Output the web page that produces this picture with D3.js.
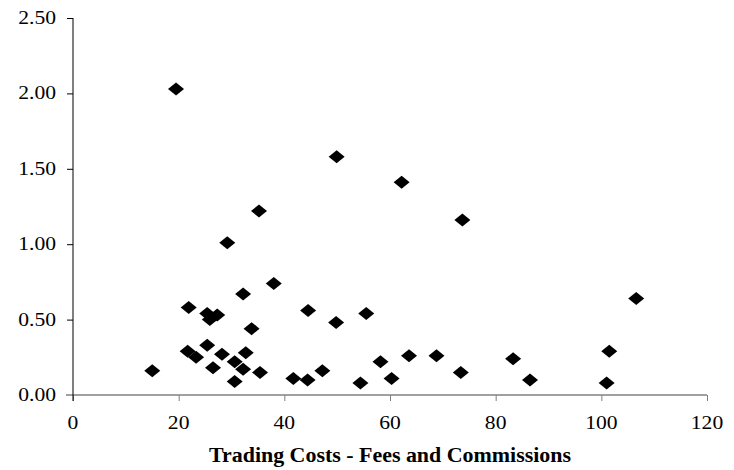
<!DOCTYPE html>
<html>
<head>
<meta charset="utf-8">
<script src="https://cdn.jsdelivr.net/npm/d3@7"></script>
<style>
  body { margin: 0; background: #fff; }
  text { font-family: "Liberation Serif", "Times New Roman", serif; fill: #000; }
</style>
</head>
<body>
<script>
// trading cost (x) vs value (y)
const costs = [15.0, 19.5, 21.9, 29.2, 32.2, 25.4, 25.9, 27.3, 21.7, 23.3,
               25.4, 26.5, 28.2, 30.6, 30.6, 32.2, 32.7, 33.8, 35.4, 35.2,
               38.0, 41.7, 44.4, 44.5, 47.2, 49.8, 49.9, 54.4, 55.5, 58.2,
               60.3, 62.2, 63.6, 68.8, 73.4, 73.7, 83.3, 86.5, 101.0, 101.5, 106.6];
const values = [0.16, 2.03, 0.58, 1.01, 0.67, 0.54, 0.50, 0.53, 0.29, 0.25,
                0.33, 0.18, 0.27, 0.09, 0.22, 0.17, 0.28, 0.44, 0.15, 1.22,
                0.74, 0.11, 0.10, 0.56, 0.16, 0.48, 1.58, 0.08, 0.54, 0.22,
                0.11, 1.41, 0.26, 0.26, 0.15, 1.16, 0.24, 0.10, 0.08, 0.29, 0.64];
const xTicks = [0, 20, 40, 60, 80, 100, 120];
const yTicks = [0, 0.5, 1.0, 1.5, 2.0, 2.5];
const xTitle = "Trading Costs - Fees and Commissions";

const width = 734, height = 470;
const plotLeft = 73, plotRight = 707, plotTop = 18, plotBottom = 395;
const stretch = 1.2; // the picture is a bit wider than tall

const svg = d3.select("body").append("svg")
    .attr("width", width)
    .attr("height", height);

const x = d3.scaleLinear().domain([0, 120]).range([plotLeft, plotRight]);
const y = d3.scaleLinear().domain([0, 2.5]).range([plotBottom, plotTop]);

// x axis (gray), the line runs a little past the y axis on the left
const xAxis = svg.append("g")
    .attr("transform", `translate(0,${plotBottom})`)
    .call(d3.axisBottom(x).tickValues(xTicks).tickSize(6).tickSizeOuter(0));
xAxis.select(".domain").attr("stroke", "#808080").attr("stroke-width", 1.5)
    .attr("d", `M${plotLeft - 7},0H${plotRight}`);
xAxis.selectAll(".tick line").attr("stroke", "#808080");
xAxis.selectAll(".tick text").remove();

// y axis (black)
const yAxis = svg.append("g")
    .attr("transform", `translate(${plotLeft},0)`)
    .call(d3.axisLeft(y).tickValues(yTicks.slice(1)).tickSize(6).tickSizeOuter(0));
yAxis.select(".domain").attr("stroke", "#000")
    .attr("d", `M0,${plotTop}V${plotBottom + 6}`);
yAxis.selectAll(".tick line").attr("stroke", "#000");
yAxis.selectAll(".tick text").remove();

// tick labels, stretched horizontally like the source image
svg.selectAll("text.xlab")
    .data(xTicks)
    .enter()
    .append("text")
    .attr("class", "xlab")
    .attr("transform", d => `translate(${x(d)},429) scale(${stretch},1)`)
    .attr("text-anchor", "middle")
    .style("font-size", "18px")
    .text(d => d);

svg.selectAll("text.ylab")
    .data(yTicks)
    .enter()
    .append("text")
    .attr("class", "ylab")
    .attr("transform", d => `translate(56,${y(d) + 6}) scale(${stretch},1)`)
    .attr("text-anchor", "end")
    .style("font-size", "18px")
    .text(d => d.toFixed(2));

// axis title
svg.append("text")
    .attr("x", 209)
    .attr("y", 462)
    .attr("textLength", 362)
    .attr("lengthAdjust", "spacingAndGlyphs")
    .style("font-size", "20px")
    .style("font-weight", "bold")
    .text(xTitle);

// diamond markers
const pts = costs.map((c, i) => ({ c: c, v: values[i] }));
svg.selectAll("path.pt")
    .data(pts)
    .enter()
    .append("path")
    .attr("class", "pt")
    .attr("d", "M0,-6.5 L8,0 L0,6.5 L-8,0 Z")
    .attr("transform", d => `translate(${x(d.c)},${y(d.v)})`)
    .attr("fill", "#000");
</script>
</body>
</html>
